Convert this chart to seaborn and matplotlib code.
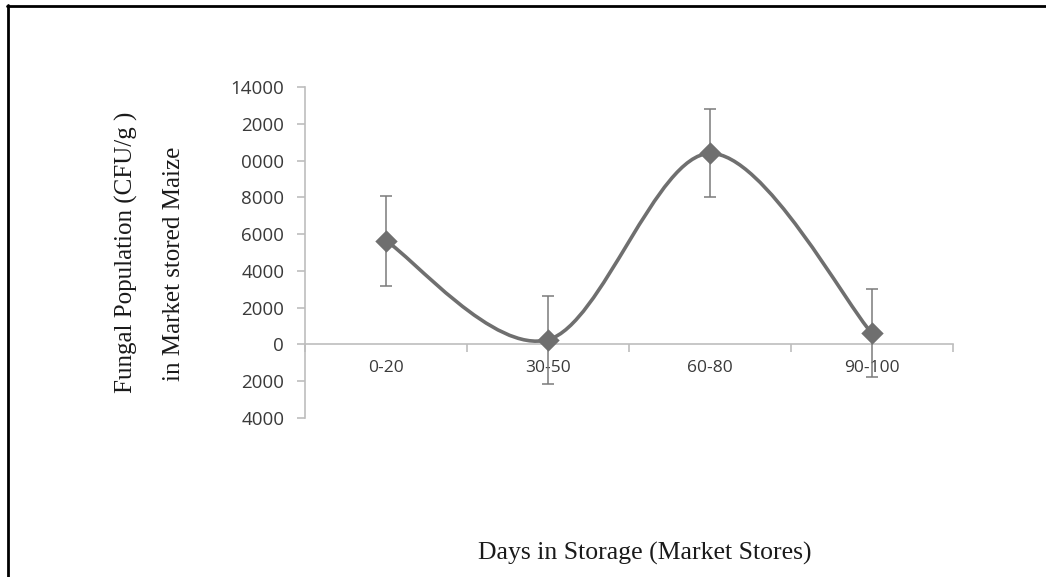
import numpy as np
import pandas as pd
import matplotlib
matplotlib.use("Agg")
import matplotlib.pyplot as plt
import seaborn as sns
from matplotlib.path import Path
from matplotlib.patches import PathPatch
from matplotlib.lines import Line2D

categories = ["0-20", "30-50", "60-80", "90-100"]
values = [5630, 250, 10400, 590]
errors = [2430, 2390, 2400, 2400]
ytick_values = [14000, 12000, 10000, 8000, 6000, 4000, 2000, 0, -2000, -4000]
ytick_labels = ["14000", "2000", "0000", "8000", "6000", "4000", "2000", "0", "2000", "4000"]

sns.set_theme(style="white")
plt.rcParams["font.family"] = ["Open Sans", "DejaVu Sans"]

fig = plt.figure(figsize=(10.46, 5.77), dpi=100)
ax = fig.add_axes([0.2916, 0.2761, 0.9111 - 0.2916, 0.8487 - 0.2761])

df = pd.DataFrame({"x": np.arange(len(categories)), "y": values, "cat": categories})
line_col = "#6f6f6f"

# smoothed line (Excel-style Catmull-Rom Bezier through the points)
pts = np.column_stack([df["x"].values, df["y"].values]).astype(float)
n = len(pts)
verts = [tuple(pts[0])]
codes = [Path.MOVETO]
for i in range(n - 1):
    p0 = pts[i - 1] if i > 0 else pts[i]
    p1 = pts[i]
    p2 = pts[i + 1]
    p3 = pts[i + 2] if i + 2 < n else pts[i + 1]
    c1 = p1 + (p2 - p0) / 6.0
    c2 = p2 - (p3 - p1) / 6.0
    verts += [tuple(c1), tuple(c2), tuple(p2)]
    codes += [Path.CURVE4] * 3
ax.add_patch(PathPatch(Path(verts, codes), facecolor="none", edgecolor=line_col,
                       lw=2.6, capstyle="round", zorder=3))

ax.errorbar(df["x"], df["y"], yerr=errors, fmt="none", ecolor="#7a7a7a",
            elinewidth=1.1, capsize=4.5, capthick=1.1, zorder=4)
sns.scatterplot(data=df, x="x", y="y", marker="D", s=130, color=line_col,
                edgecolor=line_col, linewidth=0, ax=ax, zorder=5)

ax.set_xlim(-0.5, 3.5)
ax.set_ylim(-4000, 14000)

ax.set_yticks(ytick_values)
ax.set_yticklabels(ytick_labels)
ax.set_xticks(range(len(categories)))
ax.set_xticklabels(categories)
ax.set_xticks([-0.5, 0.5, 1.5, 2.5, 3.5], minor=True)

axis_col = "#bdbdbd"
for s in ["top", "right"]:
    ax.spines[s].set_visible(False)
ax.spines["bottom"].set_position(("data", 0))
ax.spines["bottom"].set_color(axis_col)
ax.spines["left"].set_color(axis_col)
ax.spines["bottom"].set_linewidth(1.2)
ax.spines["left"].set_linewidth(1.2)

ax.tick_params(axis="y", which="major", direction="out", length=6, width=1.2,
               color=axis_col, labelsize=13.5, labelcolor="#3a3a3a", pad=9, left=True)
ax.tick_params(axis="x", which="major", length=0, labelsize=12.5,
               labelcolor="#3a3a3a", pad=11, bottom=True)
ax.tick_params(axis="x", which="minor", direction="out", length=6, width=1.2,
               color=axis_col, bottom=True)
ax.set_xlabel("")
ax.set_ylabel("")

serif = ["Liberation Serif", "DejaVu Serif"]
fig.text(126 / 1046, 1 - 252 / 577, "Fungal Population (CFU/g )", rotation=90,
         ha="center", va="center", fontsize=18, family=serif, color="#1a1a1a")
fig.text(174 / 1046, 1 - 263.5 / 577, "in Market stored Maize", rotation=90,
         ha="center", va="center", fontsize=18, family=serif, color="#1a1a1a")
fig.text(645 / 1046, 1 - 553 / 577, "Days in Storage (Market Stores)",
         ha="center", va="center", fontsize=18.5, family=serif, color="#1a1a1a")

# outer frame (top and left edges)
fig.add_artist(Line2D([7 / 1046, 1.0], [1 - 5.5 / 577, 1 - 5.5 / 577],
                      transform=fig.transFigure, color="black", lw=2))
fig.add_artist(Line2D([7.5 / 1046, 7.5 / 1046], [0, 1 - 5 / 577],
                      transform=fig.transFigure, color="black", lw=2))

fig.savefig("out.png", dpi=100, facecolor="white")
